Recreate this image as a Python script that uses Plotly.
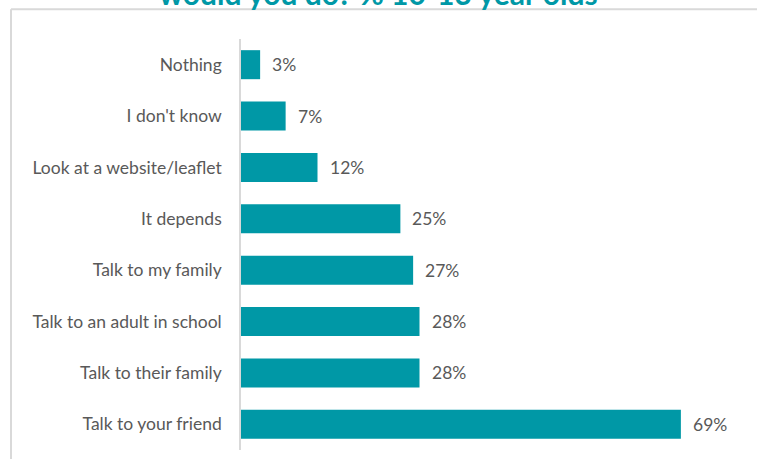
import plotly.graph_objects as go

# Survey responses, listed top to bottom
responses = [
    "Nothing",
    "I don't know",
    "Look at a website/leaflet",
    "It depends",
    "Talk to my family",
    "Talk to an adult in school",
    "Talk to their family",
    "Talk to your friend",
]
percent = [3, 7, 12, 25, 27, 28, 28, 69]
title_text = "would you do? % 10-13 year olds"

TEAL = "#0098A6"
GREY_TEXT = "#595959"
BORDER = "#D9D9D9"
FONT = "Lato, Calibri, sans-serif"

fig = go.Figure(
    go.Bar(
        x=percent,
        y=responses,
        orientation="h",
        marker=dict(color=TEAL, line=dict(width=0)),
        hoverinfo="skip",
    )
)

# Value labels to the right of each bar
for r, v in zip(responses, percent):
    fig.add_annotation(
        x=v, y=r, xref="x", yref="y",
        text=f"{v}%", showarrow=False,
        xanchor="left", xshift=10,
        font=dict(family=FONT, size=17.5, color=GREY_TEXT),
    )

# Chart-area border (top and left edges)
fig.add_shape(type="line", xref="paper", yref="paper",
              x0=-0.451, x1=1.02, y0=1.0725, y1=1.0725,
              line=dict(color=BORDER, width=2))
fig.add_shape(type="line", xref="paper", yref="paper",
              x0=-0.451, x1=-0.451, y0=1.0725, y1=-0.05,
              line=dict(color=BORDER, width=2))

# Title sitting above the border, largely outside the page
fig.add_annotation(
    xref="paper", yref="paper",
    x=(378 - 241) / 510, y=1.0725,
    xanchor="center", yanchor="bottom", yshift=-4,
    text=f"<b>{title_text}</b>", showarrow=False,
    font=dict(family=FONT, size=30, color=TEAL),
)

fig.update_layout(
    width=757, height=459,
    margin=dict(l=241, r=6, t=39, b=9),
    paper_bgcolor="white", plot_bgcolor="white",
    bargap=0.435,
    showlegend=False,
    xaxis=dict(range=[0, 80], visible=False, fixedrange=True),
    yaxis=dict(
        autorange="reversed",
        showline=True, linecolor=BORDER, linewidth=1.5,
        showgrid=False, ticks="", ticklabelstandoff=14,
        tickfont=dict(family=FONT, size=17.5, color=GREY_TEXT),
        fixedrange=True,
    ),
)

fig.write_html("out.html")
